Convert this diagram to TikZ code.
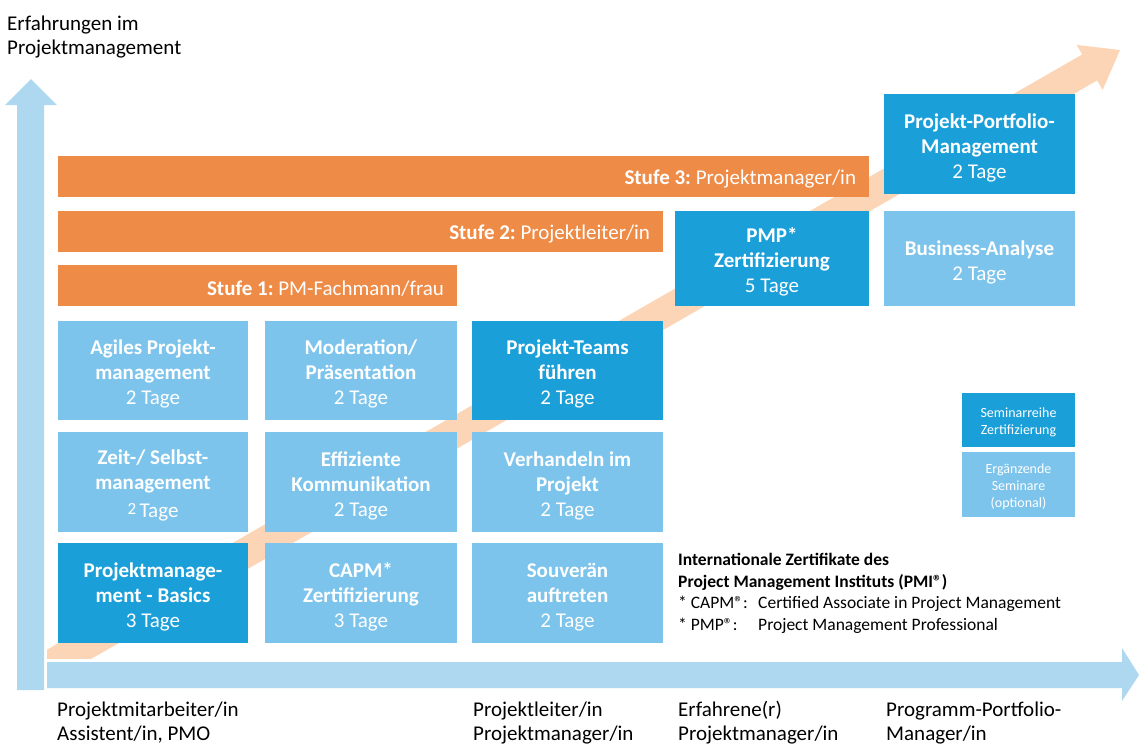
\documentclass[tikz,border=0pt]{standalone}
\usepackage{fontspec}
\setmainfont{Carlito}
\frenchspacing
\definecolor{cdark}{HTML}{1B9FD9}
\definecolor{clight}{HTML}{7DC4EC}
\definecolor{corange}{HTML}{EE8B47}
\definecolor{cpeach}{HTML}{FBD5B5}
\definecolor{caxis}{HTML}{ADD8EF}
\newcommand{\fl}{\rule{0pt}{22pt}}
\newcommand{\smfl}{\rule{0pt}{15pt}}
\newcommand{\barfl}{\rule{0pt}{20pt}}
\begin{document}
\begin{tikzpicture}[x=1pt,y=-1pt,
  box/.style={rectangle, inner sep=0pt, text=white, align=center, font=\fontsize{21}{25}\selectfont},
  darkbox/.style={box, fill=cdark},
  lightbox/.style={box, fill=clight},
  smallbox/.style={rectangle, inner sep=0pt, text=white, align=center, font=\fontsize{14}{17}\selectfont, minimum width=113pt},
  bar/.style={rectangle, fill=corange, text=white, inner sep=0pt, minimum height=41pt, font=\fontsize{21}{25}\selectfont},
  lab/.style={anchor=base west, inner sep=0pt, text=black, font=\fontsize{21}{25}\selectfont},
  pmi/.style={anchor=base west, inner sep=0pt, text=black, font=\fontsize{17.5}{21.5}\selectfont}
]
\useasboundingbox (0,0) rectangle (1139,744);

% diagonal peach arrow (under everything)
\begin{scope}
\clip (47,0) rectangle (1139,658);
\fill[cpeach] (-1.42,677.55) -- (1082.18,54.45) -- (1076.70,44.91) -- (1120,50)
  -- (1102.62,89.99) -- (1097.14,80.45) -- (13.54,703.55) -- cycle;
\end{scope}

% axes
\fill[caxis] (17,690) -- (17,105) -- (5,105) -- (31,79) -- (57,105) -- (44,105) -- (44,690) -- cycle;
\fill[caxis] (47,662) -- (1122,662) -- (1122,648) -- (1139,675) -- (1122,701) -- (1122,688) -- (47,688) -- cycle;

% stage bars
\node[bar, minimum width=811pt] (s3) at (463.5,176.5) {\makebox[785pt][r]{\barfl\textbf{Stufe 3:} Projektmanager/in}};
\node[bar, minimum width=605pt] (s2) at (360.5,231.5) {\makebox[579pt][r]{\barfl\textbf{Stufe 2:} Projektleiter/in}};
\node[bar, minimum width=399pt] (s1) at (257.5,285.5) {\makebox[373pt][r]{\barfl\textbf{Stufe 1:} PM-Fachmann/frau}};

% seminar boxes
\node[lightbox, minimum width=190pt, minimum height=99pt] (agil) at (153,370.5) {\fl\textbf{Agiles Projekt-}\\\textbf{management}\\2 Tage};
\node[lightbox, minimum width=192pt, minimum height=99pt] (mod) at (361,370.5) {\fl\textbf{Moderation/}\\\textbf{Präsentation}\\2 Tage};
\node[darkbox, minimum width=191pt, minimum height=99pt] (teams) at (567.5,370.5) {\fl\textbf{Projekt-Teams}\\\textbf{führen}\\2 Tage};

\node[lightbox, minimum width=190pt, minimum height=100pt] (zeit) at (153,482) {\fl\textbf{Zeit-/ Selbst-}\\\textbf{management}\\{\fontsize{17}{25}\selectfont 2}\,\raisebox{-3pt}{Tage}};
\node[lightbox, minimum width=192pt, minimum height=100pt] (komm) at (361,482) {\fl\textbf{Effiziente}\\\textbf{Kommunikation}\\2 Tage};
\node[lightbox, minimum width=191pt, minimum height=100pt] (verh) at (567.5,482) {\fl\textbf{Verhandeln im}\\\textbf{Projekt}\\2 Tage};

\node[darkbox, minimum width=190pt, minimum height=100pt] (basics) at (153,593) {\fl\textbf{Projektmanage-}\\\textbf{ment - Basics}\\3 Tage};
\node[lightbox, minimum width=192pt, minimum height=100pt] (capm) at (361,593) {\fl\textbf{CAPM*}\\\textbf{Zertifizierung}\\3 Tage};
\node[lightbox, minimum width=191pt, minimum height=100pt] (souv) at (567.5,593) {\fl\textbf{Souverän}\\\textbf{auftreten}\\2 Tage};

\node[darkbox, minimum width=194pt, minimum height=95pt] (pmp) at (772,258.5) {\fl\textbf{PMP*}\\\textbf{Zertifizierung}\\5 Tage};
\node[lightbox, minimum width=191pt, minimum height=95pt] (ba) at (979.5,258.5) {\fl\textbf{Business-Analyse}\\2 Tage};
\node[darkbox, minimum width=191pt, minimum height=100pt] (ppm) at (979.5,144) {\fl\textbf{Projekt-Portfolio-}\\\textbf{Management}\\2 Tage};

% legend
\node[smallbox, fill=cdark, minimum height=54pt] (leg1) at (1018.5,420) {\smfl Seminarreihe\\Zertifizierung};
\node[smallbox, fill=clight, minimum height=65pt] (leg2) at (1018.5,484.5) {\smfl Ergänzende\\Seminare\\(optional)};

% PMI notes
\node[pmi] (pmi1) at (678,565) {\textbf{Internationale Zertifikate des}};
\node[pmi] (pmi2) at (678,587) {\textbf{Project Management Instituts (PMI®)}};
\node[pmi] (pmi3) at (678,608) {\makebox[80pt][l]{* CAPM®:}Certified Associate in Project Management};
\node[pmi] (pmi4) at (678,630) {\makebox[80pt][l]{* PMP®:}Project Management Professional};

% axis labels
\node[lab] (yl1) at (7,30) {Erfahrungen im};
\node[lab] (yl2) at (7,54) {Projektmanagement};

\node[lab] (xa1) at (57,716) {Projektmitarbeiter/in};
\node[lab] (xa2) at (57,740) {Assistent/in, PMO};
\node[lab] (xb1) at (473,716) {Projektleiter/in};
\node[lab] (xb2) at (473,740) {Projektmanager/in};
\node[lab] (xc1) at (678,716) {Erfahrene(r)};
\node[lab] (xc2) at (678,740) {Projektmanager/in};
\node[lab] (xd1) at (886,716) {Programm-Portfolio-};
\node[lab] (xd2) at (886,740) {Manager/in};
\end{tikzpicture}
\end{document}
